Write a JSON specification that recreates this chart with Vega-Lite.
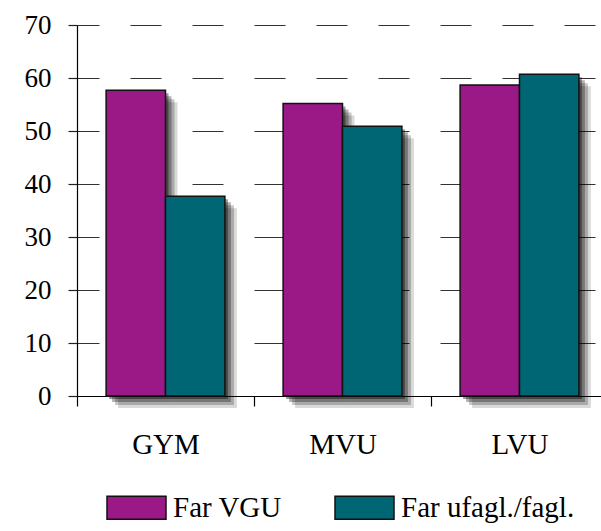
{
  "$schema": "https://vega.github.io/schema/vega-lite/v6.json",
  "width": 531,
  "height": 371,
  "autosize": "none",
  "padding": {"left": 77, "top": 25, "right": 0, "bottom": 135},
  "background": "white",
  "config": {
    "font": "Liberation Serif",
    "view": {"stroke": null}
  },
  "data": {
    "values": [
      {"level": "GYM", "father": "Far VGU", "pct": 57.7},
      {"level": "GYM", "father": "Far ufagl./fagl.", "pct": 37.7},
      {"level": "MVU", "father": "Far VGU", "pct": 55.2},
      {"level": "MVU", "father": "Far ufagl./fagl.", "pct": 50.9},
      {"level": "LVU", "father": "Far VGU", "pct": 58.7},
      {"level": "LVU", "father": "Far ufagl./fagl.", "pct": 60.7}
    ]
  },
  "encoding": {
    "x": {
      "field": "level", "type": "nominal", "sort": ["GYM", "MVU", "LVU"],
      "scale": {"paddingInner": 0, "paddingOuter": 0},
      "axis": {
        "title": null, "labelAngle": 0, "labelFont": "Liberation Serif", "labelFontSize": 29,
        "labelColor": "black", "labelBaseline": "alphabetic", "labelPadding": 47,
        "tickBand": "extent", "tickSize": 10, "tickColor": "black", "tickWidth": 1.2,
        "domainColor": "black", "domainWidth": 1.2, "grid": false
      }
    },
    "y": {
      "field": "pct", "type": "quantitative",
      "scale": {"domain": [0, 70], "nice": false},
      "axis": {
        "title": null, "values": [0, 10, 20, 30, 40, 50, 60, 70],
        "labelFont": "Liberation Serif", "labelFontSize": 27, "labelColor": "black",
        "labelPadding": 17, "tickSize": 9, "tickColor": "#222", "tickWidth": 1.2,
        "domainColor": "black", "domainWidth": 1.2,
        "grid": true, "gridDash": [31, 31], "gridDashOffset": 9, "gridColor": "#333", "gridWidth": 1.2
      }
    }
  },
  "resolve": {"scale": {"xOffset": "independent"}},
  "layer": [
    {
      "mark": {"type": "bar", "color": "black", "opacity": 0.15, "yOffset": 12, "y2Offset": 12},
      "encoding": {"xOffset": {"field": "father", "type": "nominal", "sort": ["Far VGU", "Far ufagl./fagl."], "scale": {"paddingInner": 0, "paddingOuter": 0.49, "align": 0.706}}}
    },
    {
      "mark": {"type": "bar", "color": "black", "opacity": 0.22, "yOffset": 9, "y2Offset": 9},
      "encoding": {"xOffset": {"field": "father", "type": "nominal", "sort": ["Far VGU", "Far ufagl./fagl."], "scale": {"paddingInner": 0, "paddingOuter": 0.49, "align": 0.655}}}
    },
    {
      "mark": {"type": "bar", "color": "black", "opacity": 0.3, "yOffset": 6, "y2Offset": 6},
      "encoding": {"xOffset": {"field": "father", "type": "nominal", "sort": ["Far VGU", "Far ufagl./fagl."], "scale": {"paddingInner": 0, "paddingOuter": 0.49, "align": 0.603}}}
    },
    {
      "mark": {"type": "bar", "color": "black", "opacity": 0.4, "yOffset": 3, "y2Offset": 3},
      "encoding": {"xOffset": {"field": "father", "type": "nominal", "sort": ["Far VGU", "Far ufagl./fagl."], "scale": {"paddingInner": 0, "paddingOuter": 0.49, "align": 0.5515}}}
    },
    {
      "mark": {"type": "bar", "stroke": "#111", "strokeWidth": 1.5, "opacity": 1},
      "encoding": {
        "xOffset": {"field": "father", "type": "nominal", "sort": ["Far VGU", "Far ufagl./fagl."], "scale": {"paddingInner": 0, "paddingOuter": 0.49}},
        "color": {
          "field": "father", "type": "nominal", "sort": ["Far VGU", "Far ufagl./fagl."],
          "scale": {"domain": ["Far VGU", "Far ufagl./fagl."], "range": ["#9B1987", "#006674"]},
          "legend": {
            "orient": "none", "legendX": 29, "legendY": 452, "direction": "horizontal", "title": null,
            "symbolType": "M-1,-0.39H1V0.39H-1Z", "symbolSize": 3481,
            "symbolStrokeColor": "#111", "symbolStrokeWidth": 1.5, "symbolOpacity": 1,
            "labelFont": "Liberation Serif", "labelFontSize": 29, "labelColor": "black", "labelLimit": 400,
            "labelOffset": 6, "columnPadding": 50, "padding": 0
          }
        }
      }
    }
  ]
}
